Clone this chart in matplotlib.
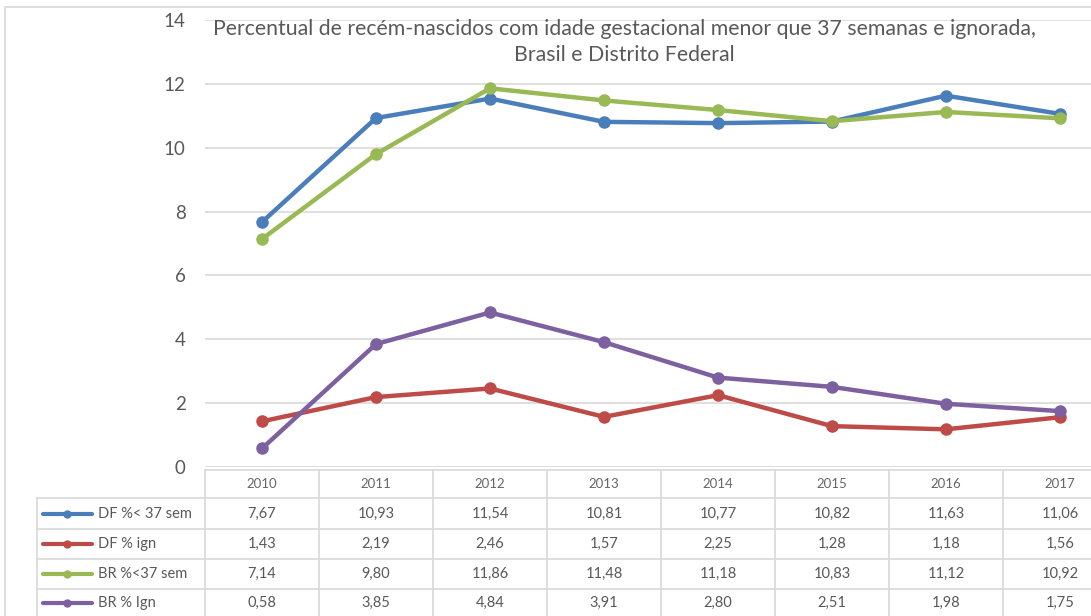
import matplotlib
matplotlib.use("Agg")
import matplotlib.pyplot as plt
from matplotlib.patches import Rectangle
from matplotlib.lines import Line2D
from matplotlib.transforms import blended_transform_factory

years = ["2010", "2011", "2012", "2013", "2014", "2015", "2016", "2017"]
df_lt37 = [7.67, 10.93, 11.54, 10.81, 10.77, 10.82, 11.63, 11.06]
df_ign = [1.43, 2.19, 2.46, 1.57, 2.25, 1.28, 1.18, 1.56]
br_lt37 = [7.14, 9.80, 11.86, 11.48, 11.18, 10.83, 11.12, 10.92]
br_ign = [0.58, 3.85, 4.84, 3.91, 2.80, 2.51, 1.98, 1.75]
series_names = ["DF %< 37 sem", "DF % ign", "BR %<37 sem", "BR % Ign"]
series_values = [df_lt37, df_ign, br_lt37, br_ign]
series_colors = ["#4A7EBB", "#BE4B48", "#98B954", "#7D60A0"]
yticks = [0, 2, 4, 6, 8, 10, 12, 14]
title_lines = ["Percentual de recém-nascidos com idade gestacional menor que 37 semanas e ignorada,",
               "Brasil e Distrito Federal"]

W, H = 1091, 616
fig = plt.figure(figsize=(W / 100, H / 100), dpi=100)
plt.rcParams['font.family'] = ['Lato', 'DejaVu Sans']

TXT = "#595959"
GRID = "#D9D9D9"

ax_l, ax_r, ax_t, ax_b = 205, 1091, 20, 467
ax = fig.add_axes([ax_l / W, 1 - ax_b / H, (ax_r - ax_l) / W, (ax_b - ax_t) / H])
colw = 114
ax.set_xlim(0, (ax_r - ax_l) / colw)
ax.set_ylim(0, 14)
ax.set_yticks(yticks)
ax.set_xticks([])
ax.yaxis.grid(True, color=GRID, linewidth=1.2)
ax.set_axisbelow(True)
for s in ax.spines.values():
    s.set_visible(False)
ax.tick_params(axis='y', length=0, pad=14, labelsize=13.5, labelcolor=TXT)

xs = [i + 0.5 for i in range(len(years))]
for vals, col in zip(series_values, series_colors):
    ax.plot(xs, vals, color=col, linewidth=3.2, marker='o', markersize=8,
            solid_capstyle='round', clip_on=False, zorder=3)

fig.text(624 / W, 1 - 29 / H, title_lines[0], ha='center', va='center', fontsize=15.3,
         color=TXT)
fig.text(624 / W, 1 - 55 / H, title_lines[1], ha='center', va='center', fontsize=15.3,
         color=TXT)

# chart border
fig.patches.append(Rectangle((5 / W, -0.01), 1.1, 1 - 7 / H + 0.01, transform=fig.transFigure,
                             fill=False, edgecolor=GRID, linewidth=1.2))

# data table
def fy(py):
    return 1 - py / H

trans = blended_transform_factory(ax.transData, fig.transFigure)
row_edges = [470, 498, 529, 559, 589, 640]
tab_left = 37
n = len(years)
fig.add_artist(Line2D([ax_l / W, 1.0], [fy(row_edges[0])] * 2, transform=fig.transFigure,
                      color=GRID, linewidth=1.2))
for r in row_edges[1:5]:
    fig.add_artist(Line2D([tab_left / W, 1.0], [fy(r)] * 2, transform=fig.transFigure,
                          color=GRID, linewidth=1.2))
fig.add_artist(Line2D([tab_left / W] * 2, [fy(row_edges[1]), 0], transform=fig.transFigure,
                      color=GRID, linewidth=1.2))
for k in range(n + 1):
    fig.add_artist(Line2D([k, k], [fy(row_edges[0]), 0], transform=trans,
                          color=GRID, linewidth=1.2, clip_on=False))

for x, y in zip(xs, years):
    fig.text(x, fy((row_edges[0] + row_edges[1]) / 2), y, transform=trans, ha='center',
             va='center', fontsize=9.5, color="#666666")
for i, (name, vals, col) in enumerate(zip(series_names, series_values, series_colors)):
    yc = fy((row_edges[i + 1] + row_edges[i + 2]) / 2 if i < 3 else 603)
    fig.add_artist(Line2D([43 / W, 92 / W], [yc, yc], transform=fig.transFigure, color=col,
                          linewidth=3.0, solid_capstyle='round'))
    fig.add_artist(Line2D([67 / W], [yc], transform=fig.transFigure, color=col, marker='o',
                          markersize=5))
    fig.text(98 / W, yc, name, ha='left', va='center', fontsize=10.5, color=TXT)
    for x, v in zip(xs, vals):
        fig.text(x, yc, f"{v:.2f}".replace('.', ','), transform=trans, ha='center',
                 va='center', fontsize=10.5, color=TXT)

fig.savefig("out.png", dpi=100, facecolor='white')
